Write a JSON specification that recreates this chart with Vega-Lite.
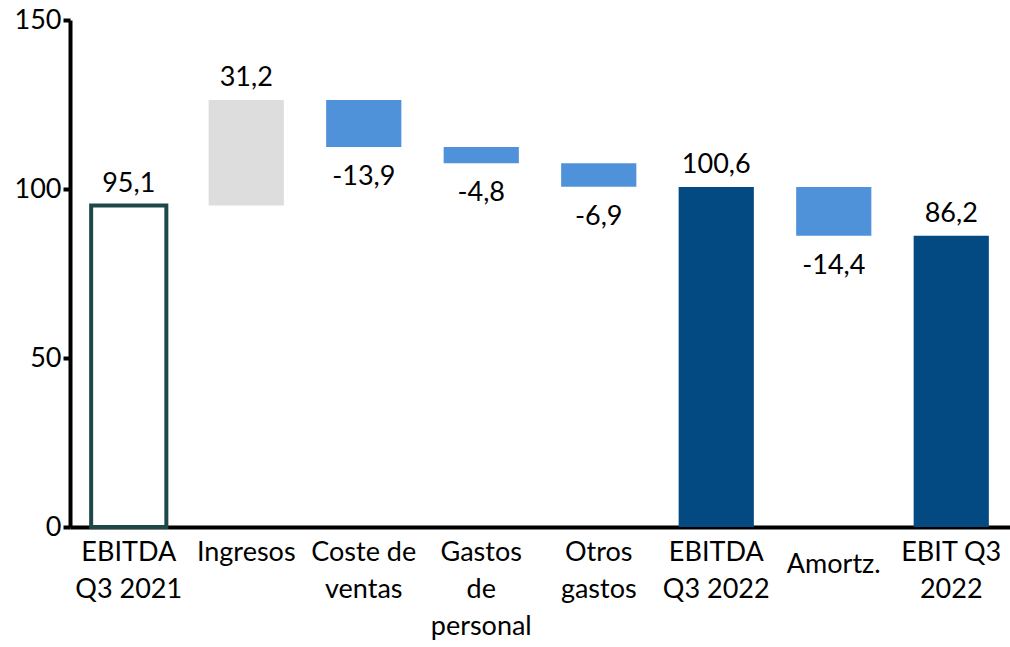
{
  "$schema": "https://vega.github.io/schema/vega-lite/v6.json",
  "width": 940,
  "height": 507,
  "autosize": {"type": "none"},
  "padding": {"left": 70, "top": 20, "right": 0, "bottom": 120},
  "background": "white",
  "config": {"view": {"stroke": null}, "font": "Lato"},
  "data": {
    "values": [
      {"cat": "EBITDA Q3 2021", "start": 0, "end": 95.1, "value": 95.1, "txt": "95,1", "type": "start"},
      {"cat": "Ingresos", "start": 95.1, "end": 126.3, "value": 31.2, "txt": "31,2", "type": "up"},
      {"cat": "Coste de ventas", "start": 126.3, "end": 112.4, "value": -13.9, "txt": "-13,9", "type": "down"},
      {"cat": "Gastos de personal", "start": 112.4, "end": 107.6, "value": -4.8, "txt": "-4,8", "type": "down"},
      {"cat": "Otros gastos", "start": 107.6, "end": 100.7, "value": -6.9, "txt": "-6,9", "type": "down"},
      {"cat": "EBITDA Q3 2022", "start": 0, "end": 100.6, "value": 100.6, "txt": "100,6", "type": "total"},
      {"cat": "Amortz.", "start": 100.6, "end": 86.2, "value": -14.4, "txt": "-14,4", "type": "down"},
      {"cat": "EBIT Q3 2022", "start": 0, "end": 86.2, "value": 86.2, "txt": "86,2", "type": "total"}
    ]
  },
  "encoding": {
    "x": {
      "field": "cat",
      "type": "nominal",
      "sort": ["EBITDA Q3 2021", "Ingresos", "Coste de ventas", "Gastos de personal", "Otros gastos", "EBITDA Q3 2022", "Amortz.", "EBIT Q3 2022"],
      "title": null,
      "scale": {"paddingInner": 0.36, "paddingOuter": 0.18},
      "axis": {
        "labelAngle": 0,
        "labelFont": "Lato",
        "labelFontSize": 27,
        "labelColor": "black",
        "labelLineHeight": 37,
        "labelBaseline": "top",
        "labelPadding": {"condition": {"test": "datum.value == 'Amortz.'", "value": 24}, "value": 12},
        "labelExpr": "datum.value == 'EBITDA Q3 2021' ? ['EBITDA', 'Q3 2021'] : datum.value == 'Coste de ventas' ? ['Coste de', 'ventas'] : datum.value == 'Gastos de personal' ? ['Gastos', 'de', 'personal'] : datum.value == 'Otros gastos' ? ['Otros', 'gastos'] : datum.value == 'EBITDA Q3 2022' ? ['EBITDA', 'Q3 2022'] : datum.value == 'EBIT Q3 2022' ? ['EBIT Q3', '2022'] : datum.value",
        "labelLimit": 200,
        "ticks": false,
        "domainColor": "black",
        "domainWidth": 4,
        "labelOverlap": false
      }
    }
  },
  "layer": [
    {
      "transform": [{"filter": "datum.type != 'start'"}],
      "mark": {"type": "bar"},
      "encoding": {
        "y": {
          "field": "start",
          "type": "quantitative",
          "scale": {"domain": [0, 150], "nice": false},
          "title": null,
          "axis": {
            "values": [0, 50, 100, 150],
            "grid": false,
            "labelFont": "Lato",
            "labelFontSize": 27,
            "labelColor": "black",
            "labelPadding": 2,
            "tickSize": 7,
            "tickWidth": 4,
            "tickColor": "black",
            "domainColor": "black",
            "domainWidth": 4
          }
        },
        "y2": {"field": "end"},
        "fill": {
          "field": "type",
          "type": "nominal",
          "scale": {"domain": ["up", "down", "total"], "range": ["#DDDDDD", "#4F92DA", "#034A82"]},
          "legend": null
        }
      }
    },
    {
      "transform": [{"filter": "datum.type == 'start'"}],
      "mark": {"type": "bar", "fill": "white", "stroke": "#1E4848", "strokeWidth": 4},
      "encoding": {
        "y": {"field": "start", "type": "quantitative"},
        "y2": {"field": "end"}
      }
    },
    {
      "transform": [{"filter": "datum.value > 0"}],
      "mark": {"type": "text", "baseline": "alphabetic", "dy": -14, "fontSize": 27, "font": "Lato", "color": "black"},
      "encoding": {
        "y": {"field": "end", "type": "quantitative"},
        "text": {"field": "txt"}
      }
    },
    {
      "transform": [{"filter": "datum.value < 0"}],
      "mark": {"type": "text", "baseline": "top", "dy": 17, "fontSize": 27, "font": "Lato", "color": "black"},
      "encoding": {
        "y": {"field": "end", "type": "quantitative"},
        "text": {"field": "txt"}
      }
    }
  ]
}
